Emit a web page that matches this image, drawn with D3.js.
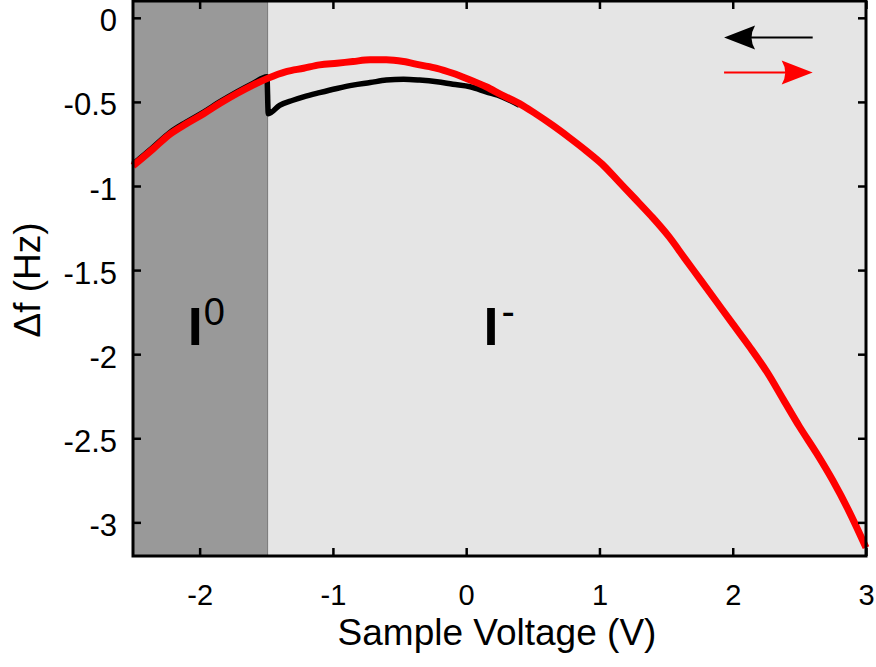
<!DOCTYPE html>
<html>
<head>
<meta charset="utf-8">
<script src="https://d3js.org/d3.v7.min.js"></script>
<style>
body { margin: 0; background: #fff; }
text { font-family: "Liberation Sans", Arial, sans-serif; }
</style>
</head>
<body>
<div id="chart"></div>
<script>
// sweep towards positive bias (red)
var redV  = [-2.5, -2.35, -2.22, -2.1, -1.97, -1.85, -1.72, -1.6, -1.49, -1.35, -1.22, -1.1, -0.97, -0.85, -0.72, -0.6, -0.47, -0.35, -0.22, -0.1, 0.03, 0.15, 0.27, 0.4, 0.52, 0.65, 0.77, 0.9, 1.02, 1.14, 1.26, 1.39, 1.52, 1.64, 1.76, 1.88, 2.0, 2.13, 2.26, 2.38, 2.5, 2.63, 2.75, 2.87, 3.0];
var redDf = [-0.88, -0.78, -0.69, -0.63, -0.57, -0.51, -0.45, -0.4, -0.36, -0.32, -0.3, -0.28, -0.27, -0.26, -0.25, -0.25, -0.26, -0.28, -0.3, -0.33, -0.37, -0.41, -0.46, -0.51, -0.57, -0.64, -0.71, -0.79, -0.87, -0.97, -1.07, -1.18, -1.3, -1.43, -1.56, -1.69, -1.82, -1.96, -2.11, -2.27, -2.43, -2.59, -2.75, -2.93, -3.15];
// sweep towards negative bias (black)
var blackV  = [-2.5, -2.35, -2.22, -2.1, -1.97, -1.85, -1.72, -1.6, -1.495, -1.485, -1.4, -1.3, -1.22, -1.1, -0.97, -0.85, -0.72, -0.6, -0.47, -0.35, -0.22, -0.1, 0.03, 0.15, 0.27, 0.4];
var blackDf = [-0.87, -0.77, -0.68, -0.62, -0.56, -0.5, -0.44, -0.39, -0.35, -0.57, -0.52, -0.49, -0.47, -0.445, -0.42, -0.4, -0.385, -0.37, -0.365, -0.37, -0.38, -0.395, -0.41, -0.44, -0.47, -0.52];

var xTicks = [-2, -1, 0, 1, 2, 3];
var yTicks = [0, -0.5, -1, -1.5, -2, -2.5, -3];
var neutralEnd = -1.49;

var W = 876, H = 667;
var pL = 133, pR = 866, pT = 1, pB = 556;

var svg = d3.select("#chart").append("svg")
  .attr("width", W).attr("height", H);

var x = d3.scaleLinear().domain([-2.5, 3]).range([pL, pR]);
var y = d3.scaleLinear().domain([-3.2, 0.1]).range([pB, pT]);

// backgrounds
svg.append("rect")
  .attr("x", pL).attr("y", pT)
  .attr("width", pR - pL).attr("height", pB - pT)
  .attr("fill", "#e5e5e5");
svg.append("rect")
  .attr("x", pL).attr("y", pT)
  .attr("width", x(neutralEnd) - pL).attr("height", pB - pT)
  .attr("fill", "#999999");
svg.append("line")
  .attr("x1", x(neutralEnd)).attr("x2", x(neutralEnd))
  .attr("y1", pT).attr("y2", pB)
  .attr("stroke", "#7a7a7a").attr("stroke-width", 1);

var line = d3.line()
  .x(function(d) { return x(d[0]); })
  .y(function(d) { return y(d[1]); })
  .curve(d3.curveMonotoneX);

svg.append("path")
  .datum(d3.zip(blackV, blackDf))
  .attr("d", line)
  .attr("fill", "none")
  .attr("stroke", "#000")
  .attr("stroke-width", 5.5);

svg.append("path")
  .datum(d3.zip(redV, redDf))
  .attr("d", line)
  .attr("fill", "none")
  .attr("stroke", "#ff0000")
  .attr("stroke-width", 7);

// axes, ticks inward on all sides
var fmt = function(d) { return String(d); };
var gx = svg.append("g").attr("transform", "translate(0," + pB + ")")
  .call(d3.axisBottom(x).tickValues(xTicks).tickSize(-8).tickPadding(28).tickFormat(fmt));
var gxt = svg.append("g").attr("transform", "translate(0," + pT + ")")
  .call(d3.axisTop(x).tickValues(xTicks).tickSize(-8).tickFormat(""));
var gy = svg.append("g").attr("transform", "translate(" + pL + ",0)")
  .call(d3.axisLeft(y).tickValues(yTicks).tickSize(-8).tickPadding(16).tickFormat(fmt));
var gyr = svg.append("g").attr("transform", "translate(" + pR + ",0)")
  .call(d3.axisRight(y).tickValues(yTicks).tickSize(-8).tickFormat(""));

[gx, gxt, gy, gyr].forEach(function(g) {
  g.select(".domain").remove();
  g.selectAll(".tick line").attr("stroke", "#000").attr("stroke-width", 2.5);
  g.selectAll(".tick text").attr("fill", "#000")
    .style("font-family", "'Liberation Sans', Arial, sans-serif");
});
gx.selectAll(".tick text").style("font-size", "29px");
gy.selectAll(".tick text").style("font-size", "31px").attr("dy", "0.42em");

svg.append("rect")
  .attr("x", pL).attr("y", pT)
  .attr("width", pR - pL).attr("height", pB - pT)
  .attr("fill", "none").attr("stroke", "#000").attr("stroke-width", 3);

// axis titles
svg.append("text")
  .attr("x", 497).attr("y", 645)
  .attr("text-anchor", "middle")
  .style("font-size", "37px")
  .text("Sample Voltage (V)");

svg.append("text")
  .attr("transform", "translate(40,280) rotate(-90)")
  .attr("text-anchor", "middle")
  .style("font-size", "37px")
  .text("\u0394f (Hz)");

// region labels
var l0 = svg.append("text").attr("x", x(-2.09)).attr("y", 345).style("font-size", "54px");
l0.append("tspan").style("font-weight", "bold").text("I");
l0.append("tspan").attr("dy", -20).attr("dx", 1).style("font-size", "38px").text("0");

var l1 = svg.append("text").attr("x", x(0.13)).attr("y", 345).style("font-size", "54px");
l1.append("tspan").style("font-weight", "bold").text("I");
l1.append("tspan").attr("dy", -20).attr("dx", 3).style("font-size", "40px").text("-");

// sweep direction arrows
function arrow(x0, x1, yv, color) {
  var ya = y(yv), xa0 = x(x0), xa1 = x(x1);
  var dir = xa1 > xa0 ? 1 : -1;
  svg.append("line")
    .attr("x1", xa0).attr("x2", xa1 - dir * 20)
    .attr("y1", ya).attr("y2", ya)
    .attr("stroke", color).attr("stroke-width", 2.2);
  var p = d3.path();
  p.moveTo(xa1, ya);
  p.lineTo(xa1 - dir * 31, ya - 12);
  p.quadraticCurveTo(xa1 - dir * 24, ya, xa1 - dir * 31, ya + 12);
  p.closePath();
  svg.append("path").attr("d", p.toString()).attr("fill", color);
}
arrow(2.6, 1.935, -0.117, "#000");
arrow(1.935, 2.6, -0.325, "#ff0000");
</script>
</body>
</html>
